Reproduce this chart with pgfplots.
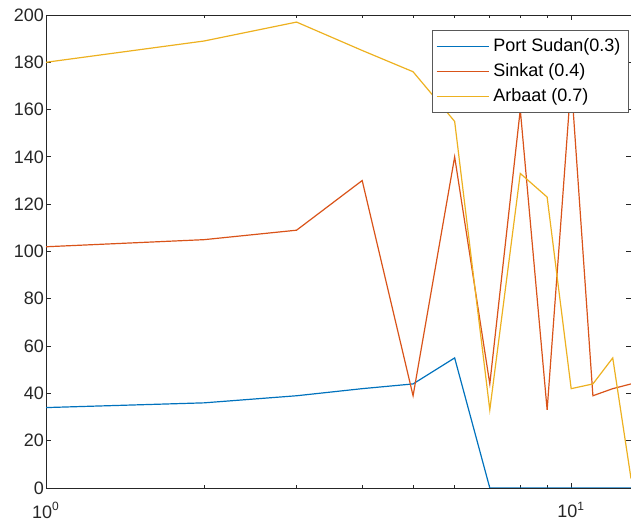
\documentclass[border=0pt]{standalone}
\usepackage{pgfplots}
\pgfplotsset{compat=1.18}
\usepackage{fontspec}
\setmainfont{Liberation Sans}
\definecolor{mblue}{rgb}{0,0.447,0.741}
\definecolor{mred}{rgb}{0.85,0.325,0.098}
\definecolor{myellow}{rgb}{0.929,0.694,0.125}
\definecolor{axgray}{rgb}{0.15,0.15,0.15}
\begin{document}
\begin{tikzpicture}
\begin{semilogxaxis}[
  scale only axis,
  width=292.5pt, height=236.5pt,
  xmin=1, xmax=13, ymin=0, ymax=200,
  xtick={1,10},
  xticklabels={10\textsuperscript{0},10\textsuperscript{1}},
  minor xtick={2,3,4,5,6,7,8,9},
  ytick={0,20,...,200},
  /pgf/number format/assume math mode=true,
  tick label style={font=\fontsize{9}{10}\selectfont, color=axgray},
  xticklabel style={yshift=-3.5pt},
  yticklabel style={xshift=2.5pt},
  axis line style={axgray, line width=0.4pt},
  tick style={axgray, line width=0.4pt},
  major tick length=2.5pt, minor tick length=1.5pt,
  tick align=inside,
  legend style={at={(1,1)}, anchor=north east, xshift=-1pt, yshift=-7.5pt,
    font=\fontsize{9}{10}\selectfont, draw=gray!70!black, line width=0.6pt,
    row sep=0.5pt, inner sep=2pt},
  legend cell align=left,
  legend image code/.code={\draw[#1] (0cm,0cm) -- (26pt,0cm);},
  every axis plot/.append style={line width=0.6pt},
]
\addplot[mblue] coordinates {(1,34) (2,36) (3,39) (4,42) (5,44) (6,55) (7,0) (8,0) (9,0) (10,0) (11,0) (12,0) (13,0)};
\addlegendentry{Port Sudan(0.3)}
\addplot[mred] coordinates {(1,102) (2,105) (3,109) (4,130) (5,39) (6,140) (7,44) (8,160) (9,33) (10,172) (11,39) (12,42) (13,44)};
\addlegendentry{Sinkat (0.4)}
\addplot[myellow] coordinates {(1,180) (2,189) (3,197) (4,185) (5,176) (6,155) (7,33) (8,133) (9,123) (10,42) (11,44) (12,55) (13,4)};
\addlegendentry{Arbaat (0.7)}
\end{semilogxaxis}
\pgfresetboundingbox
\useasboundingbox ([xshift=-23pt,yshift=-19.5pt]current axis.south west) rectangle ([yshift=7.5pt]current axis.north east);
\end{tikzpicture}
\end{document}
